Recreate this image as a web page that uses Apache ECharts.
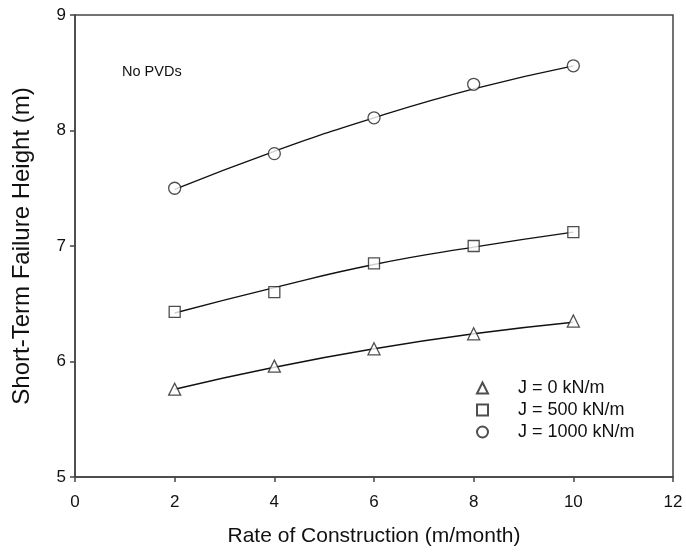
<!DOCTYPE html>
<html>
<head>
<meta charset="utf-8">
<script src="https://cdn.jsdelivr.net/npm/echarts@6/dist/echarts.min.js"></script>
<style>html,body{margin:0;padding:0;background:#fff}#c{width:686px;height:554px}</style>
</head>
<body>
<div id="c"></div>
<script>
var rates = [2, 4, 6, 8, 10];
var seriesNames = ['J = 0 kN/m', 'J = 500 kN/m', 'J = 1000 kN/m'];
var j0 = [5.76, 5.96, 6.11, 6.24, 6.35];
var j500 = [6.43, 6.60, 6.85, 7.00, 7.12];
var j1000 = [7.50, 7.80, 8.11, 8.40, 8.56];
// fitted trend curves
var fitRates = [2, 4, 6, 8, 10];
var fit0 = [5.76, 5.95, 6.11, 6.24, 6.34];
var fit500 = [6.42, 6.64, 6.84, 6.99, 7.12];
var fit1000 = [7.49, 7.82, 8.11, 8.36, 8.56];
var xTicks = [0, 2, 4, 6, 8, 10, 12];
var yTicks = [5, 6, 7, 8, 9];

function pairs(xs, ys) { return xs.map(function (x, i) { return [x, ys[i]]; }); }

var font = 'Liberation Sans, Arial, sans-serif';
var chart = echarts.init(document.getElementById('c'));
var symbols = ['triangle', 'rect', 'circle'];
var vals = [j0, j500, j1000];
var fits = [fit0, fit500, fit1000];
var series = [];
fits.forEach(function (f) {
  series.push({
    type: 'line', data: pairs(fitRates, f), smooth: true, showSymbol: false,
    lineStyle: { color: '#111', width: 1.4 }, silent: true, z: 2
  });
});
vals.forEach(function (v, i) {
  series.push({
    name: seriesNames[i], type: 'scatter', data: pairs(rates, v),
    symbol: symbols[i], symbolSize: i === 1 ? 11 : 12,
    itemStyle: { color: '#fff', borderColor: '#222', borderWidth: 1.3 }, z: 3
  });
});

chart.setOption({
  animation: false,
  grid: { left: 75, right: 13, top: 15, bottom: 77, show: true, borderColor: '#444', borderWidth: 1.5 },
  xAxis: {
    type: 'value', min: 0, max: 12, interval: 2,
    name: 'Rate of Construction (m/month)', nameLocation: 'middle', nameGap: 49,
    nameTextStyle: { fontFamily: font, fontSize: 21, color: '#111' },
    axisLine: { lineStyle: { color: '#444', width: 1.5 } },
    axisTick: { show: true, length: 5, lineStyle: { color: '#444', width: 1.5 } },
    axisLabel: { fontFamily: font, fontSize: 17, color: '#111', margin: 17,
      formatter: function (v) { return xTicks.indexOf(v) >= 0 ? String(v) : ''; } },
    splitLine: { show: false }
  },
  yAxis: {
    type: 'value', min: 5, max: 9, interval: 1,
    name: 'Short-Term Failure Height (m)', nameLocation: 'middle', nameGap: 41,
    nameTextStyle: { fontFamily: font, fontSize: 24, color: '#111' },
    axisLine: { show: true, lineStyle: { color: '#444', width: 1.5 } },
    axisTick: { show: true, length: 5, lineStyle: { color: '#444', width: 1.5 } },
    axisLabel: { fontFamily: font, fontSize: 17, color: '#111', margin: 9,
      formatter: function (v) { return yTicks.indexOf(v) >= 0 ? String(v) : ''; } },
    splitLine: { show: false }
  },
  legend: {
    orient: 'vertical', left: 476, top: 379, padding: 0, itemWidth: 11, itemHeight: 11, itemGap: 4,
    data: seriesNames,
    textStyle: { fontFamily: font, fontSize: 18, color: '#111', padding: [0, 0, 0, 25] },
    selectedMode: false
  },
  graphic: [{
    type: 'text', left: 122, top: 64,
    style: { text: 'No PVDs', font: '14.5px ' + font, fill: '#111' }
  }],
  series: series
});
</script>
</body>
</html>
